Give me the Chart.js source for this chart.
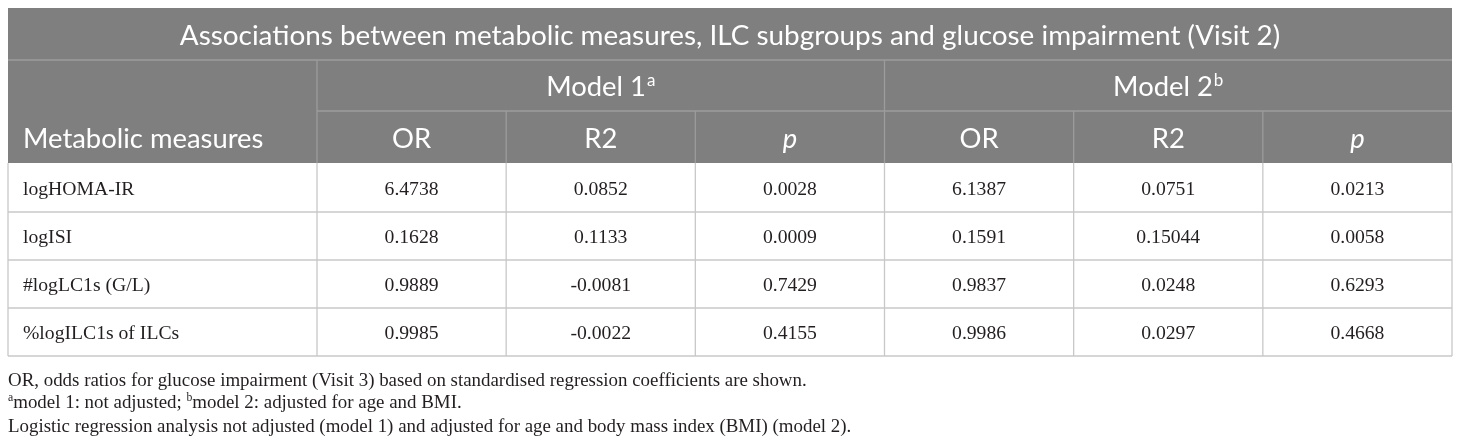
<!DOCTYPE html>
<html>
<head>
<meta charset="utf-8">
<script src="https://cdn.jsdelivr.net/npm/chart.js@4.4.0/dist/chart.umd.min.js"></script>
<style>
html,body{margin:0;padding:0;background:#ffffff;}
#wrap{width:1460px;height:443px;position:relative;}
</style>
</head>
<body>
<div id="wrap"><canvas id="c"></canvas></div>
<script>
// ---------- data ----------
const title = 'Associations between metabolic measures, ILC subgroups and glucose impairment (Visit 2)';
const stubHeader = 'Metabolic measures';
const groupLabels = ['Model 1', 'Model 2'];
const groupMarks = ['a', 'b'];
const columnLabels = ['OR', 'R2', 'p', 'OR', 'R2', 'p'];
const italicColumns = [false, false, true, false, false, true];
const rowLabels = ['logHOMA-IR', 'logISI', '#logLC1s (G/L)', '%logILC1s of ILCs'];
const model1OR = [6.4738, 0.1628, 0.9889, 0.9985];
const model1R2 = [0.0852, 0.1133, -0.0081, -0.0022];
const model1P  = [0.0028, 0.0009, 0.7429, 0.4155];
const model2OR = [6.1387, 0.1591, 0.9837, 0.9986];
const model2R2 = [0.0751, 0.15044, 0.0248, 0.0297];
const model2P  = [0.0213, 0.0058, 0.6293, 0.4668];
const valueColumns = [model1OR, model1R2, model1P, model2OR, model2R2, model2P];
const footnotes = [
  [{t: 'OR, odds ratios for glucose impairment (Visit 3) based on standardised regression coefficients are shown.'}],
  [{s: 'a'}, {t: 'model 1: not adjusted; '}, {s: 'b'}, {t: 'model 2: adjusted for age and BMI.'}],
  [{t: 'Logistic regression analysis not adjusted (model 1) and adjusted for age and body mass index (BMI) (model 2).'}]
];

// ---------- layout (table geometry in scale units) ----------
const colWidths = [309, 189.17, 189.17, 189.17, 189.17, 189.17, 189.17];
const rowHeights = [52, 51, 52, 49, 48, 48, 48]; // title, group, column header, 4 data rows
const colEdges = colWidths.reduce((a, w) => { a.push(a[a.length - 1] + w); return a; }, [0]);
const rowEdges = rowHeights.reduce((a, h) => { a.push(a[a.length - 1] + h); return a; }, [0]);
const totalW = colEdges[colEdges.length - 1];
const totalH = rowEdges[rowEdges.length - 1];
const colCenter = j => (colEdges[j] + colEdges[j + 1]) / 2;
const rowCenter = i => (rowEdges[i] + rowEdges[i + 1]) / 2;

const SANS = 'Lato, "Open Sans", sans-serif';
const SERIF = '"Liberation Serif", "DejaVu Serif", serif';
const HEAD_BG = '#7f7f7f';
const HEAD_LINE = '#9c9c9c';
const BODY_LINE = '#c8c8c8';
const TEXT = '#231f20';

// font sizes fitted to reference text widths
const mctx = document.createElement('canvas').getContext('2d');
function fit(text, family, style, target) {
  mctx.font = style + ' 100px ' + family;
  return 100 * target / mctx.measureText(text).width;
}
const titleSize = fit(title, SANS, 'normal', 1101);
const headSize = fit(stubHeader, SANS, 'normal', 240.6);
const bodySize = (fit('0.4668', SERIF, 'normal', 53.3) + fit('logHOMA-IR', SERIF, 'normal', 113)) / 2;
const noteSize = (fit(footnotes[0][0].t, SERIF, 'normal', 805) + fit(footnotes[2][0].t, SERIF, 'normal', 837)) / 2;

// ---------- datasets: anchor points for every text cell ----------
const datasets = [];
datasets.push({ label: 'rows', kind: 'stub', data: rowLabels.map((r, i) => ({x: 15, y: rowCenter(3 + i), text: r})) });
valueColumns.forEach((col, j) => {
  datasets.push({ label: columnLabels[j], kind: 'value', data: col.map((v, i) => ({x: colCenter(1 + j), y: rowCenter(3 + i), text: String(v)})) });
});
datasets.push({ label: 'colheads', kind: 'colhead', data: columnLabels.map((c, j) => ({x: colCenter(1 + j), y: rowCenter(2), text: c, italic: italicColumns[j]})) });
datasets.push({ label: 'groups', kind: 'group', data: groupLabels.map((g, k) => ({x: (colEdges[1 + 3 * k] + colEdges[4 + 3 * k]) / 2, y: rowCenter(1), text: g, mark: groupMarks[k]})) });
datasets.push({ label: 'title', kind: 'title', data: [{x: totalW / 2, y: rowCenter(0), text: title}] });
datasets.push({ label: 'stubhead', kind: 'stubhead', data: [{x: 15, y: rowCenter(2), text: stubHeader}] });
datasets.forEach(d => { d.pointRadius = 0; d.pointHoverRadius = 0; d.showLine = false; });

function capH(ctx) { return ctx.measureText('H').actualBoundingBoxAscent; }

const tablePlugin = {
  id: 'tablePlugin',
  beforeDatasetsDraw(chart) {
    const ctx = chart.ctx, xs = chart.scales.x, ys = chart.scales.y;
    const X = v => xs.getPixelForValue(v), Y = v => ys.getPixelForValue(v);
    ctx.save();
    // header background
    ctx.fillStyle = HEAD_BG;
    ctx.fillRect(X(0), Y(0), X(totalW) - X(0), Y(rowEdges[3]) - Y(0));
    ctx.lineWidth = 1.3;
    const line = (x1, y1, x2, y2, c) => { ctx.strokeStyle = c; ctx.beginPath(); ctx.moveTo(X(x1), Y(y1)); ctx.lineTo(X(x2), Y(y2)); ctx.stroke(); };
    // header lines
    line(0, rowEdges[1], totalW, rowEdges[1], HEAD_LINE);
    line(colEdges[1], rowEdges[2], totalW, rowEdges[2], HEAD_LINE);
    line(colEdges[1], rowEdges[1], colEdges[1], rowEdges[3], HEAD_LINE);
    line(colEdges[4], rowEdges[1], colEdges[4], rowEdges[3], HEAD_LINE);
    [2, 3, 5, 6].forEach(j => line(colEdges[j], rowEdges[2], colEdges[j], rowEdges[3], HEAD_LINE));
    // body grid
    for (let i = 4; i < rowEdges.length; i++) line(0, rowEdges[i], totalW, rowEdges[i], BODY_LINE);
    for (let j = 0; j < colEdges.length; j++) line(colEdges[j], rowEdges[3], colEdges[j], totalH, BODY_LINE);
    ctx.restore();
  },
  afterDatasetsDraw(chart) {
    const ctx = chart.ctx;
    ctx.save();
    ctx.textBaseline = 'alphabetic';
    chart.data.datasets.forEach((ds, di) => {
      const meta = chart.getDatasetMeta(di);
      ds.data.forEach((d, i) => {
        const el = meta.data[i];
        const px = el.x, py = el.y;
        if (ds.kind === 'value' || ds.kind === 'stub') {
          ctx.font = bodySize + 'px ' + SERIF;
          ctx.fillStyle = TEXT;
          ctx.textAlign = ds.kind === 'stub' ? 'left' : 'center';
          ctx.fillText(d.text, px, py + capH(ctx) / 2 + 0.5);
        } else if (ds.kind === 'title') {
          ctx.font = titleSize + 'px ' + SANS;
          ctx.fillStyle = '#ffffff';
          ctx.textAlign = 'center';
          ctx.fillText(d.text, px, py + capH(ctx) / 2 + 0.5);
        } else if (ds.kind === 'colhead' || ds.kind === 'stubhead') {
          ctx.fillStyle = '#ffffff';
          ctx.textAlign = ds.kind === 'stubhead' ? 'left' : 'center';
          ctx.font = headSize + 'px ' + SANS;
          const ch = capH(ctx);
          ctx.font = (d.italic ? 'italic ' : '') + headSize + 'px ' + SANS;
          ctx.fillText(d.text, px, py + ch / 2 + 0.5);
        } else if (ds.kind === 'group') {
          ctx.fillStyle = '#ffffff';
          ctx.textAlign = 'left';
          ctx.font = headSize + 'px ' + SANS;
          const ch = capH(ctx);
          const w1 = ctx.measureText(d.text).width;
          const supSize = headSize * 0.62;
          ctx.font = supSize + 'px ' + SANS;
          const w2 = ctx.measureText(d.mark).width;
          const x0 = px - (w1 + w2 + 1) / 2;
          const base = py + ch / 2 + 0.5;
          ctx.font = headSize + 'px ' + SANS;
          ctx.fillText(d.text, x0, base);
          ctx.font = supSize + 'px ' + SANS;
          ctx.fillText(d.mark, x0 + w1 + 1, base - headSize * 0.36);
        }
      });
    });
    // footnotes
    const ca = chart.chartArea;
    const baselines = [ca.bottom + 29.7, ca.bottom + 52, ca.bottom + 75.7];
    ctx.fillStyle = TEXT;
    ctx.textAlign = 'left';
    footnotes.forEach((parts, k) => {
      let x = ca.left;
      parts.forEach(p => {
        if (p.s) {
          ctx.font = (noteSize * 0.62) + 'px ' + SERIF;
          ctx.fillText(p.s, x, baselines[k] - noteSize * 0.38);
          x += ctx.measureText(p.s).width;
        } else {
          ctx.font = noteSize + 'px ' + SERIF;
          ctx.fillText(p.t, x, baselines[k]);
          x += ctx.measureText(p.t).width;
        }
      });
    });
    ctx.restore();
  }
};

new Chart(document.getElementById('c'), {
  type: 'scatter',
  data: { datasets },
  options: {
    responsive: true,
    maintainAspectRatio: false,
    animation: false,
    events: [],
    layout: { padding: { left: 8, right: 8, top: 8, bottom: 87 } },
    plugins: { legend: { display: false }, tooltip: { enabled: false } },
    scales: {
      x: { type: 'linear', min: 0, max: totalW, display: false },
      y: { type: 'linear', min: 0, max: totalH, reverse: true, display: false }
    }
  },
  plugins: [tablePlugin]
});
</script>
</body>
</html>
